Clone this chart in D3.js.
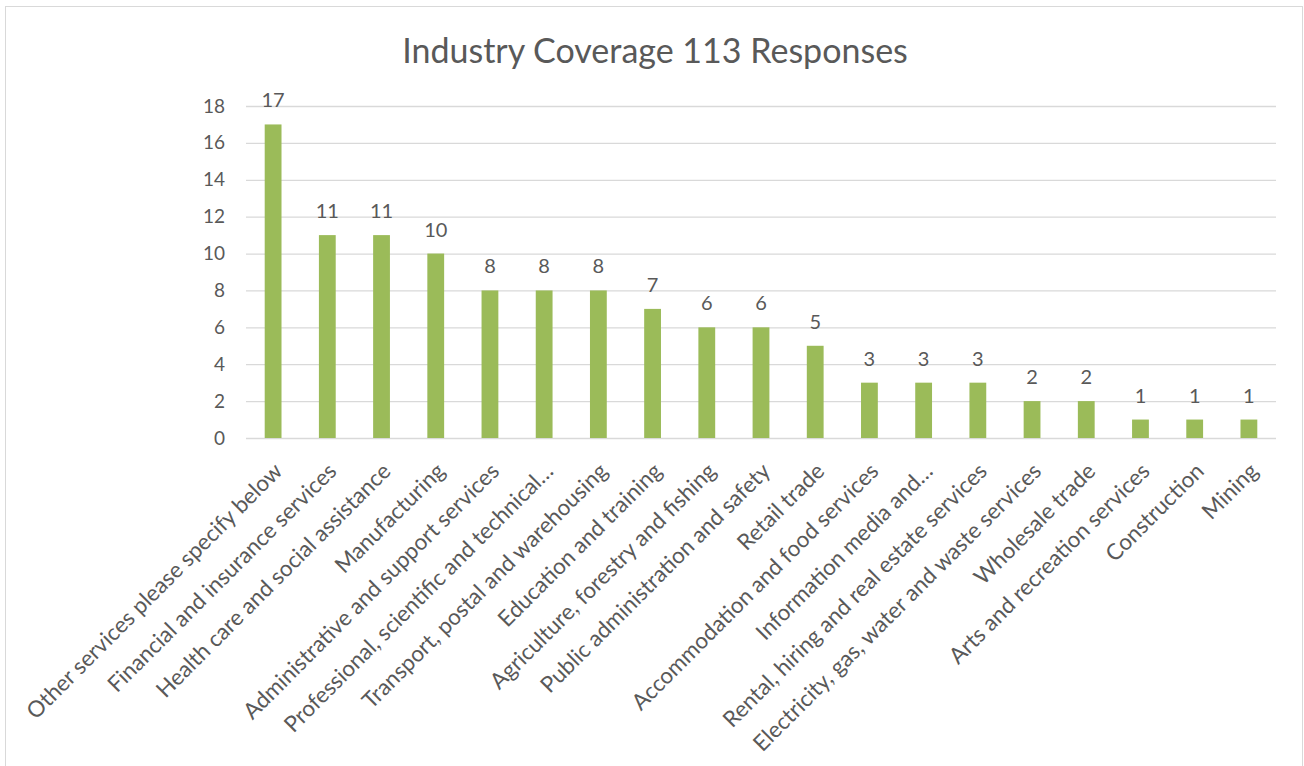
<!DOCTYPE html>
<html><head><meta charset="utf-8">
<script src="https://cdn.jsdelivr.net/npm/d3@7"></script>
<style>
body{margin:0;background:#fff;}
text{font-family:"Lato","Open Sans",sans-serif;fill:#595959;}
</style></head>
<body><svg id="c" width="1304" height="766"></svg>
<script>
const categories = ["Other services please specify below","Financial and insurance services","Health care and social assistance","Manufacturing","Administrative and support services","Professional, scientific and technical…","Transport, postal and warehousing","Education and training","Agriculture, forestry and fishing","Public administration and safety","Retail trade","Accommodation and food services","Information media and…","Rental, hiring and real estate services","Electricity, gas, water and waste services","Wholesale trade","Arts and recreation services","Construction","Mining"];
const values = [17,11,11,10,8,8,8,7,6,6,5,3,3,3,2,2,1,1,1];
const yTicks = [0,2,4,6,8,10,12,14,16,18];
const title = "Industry Coverage 113 Responses";

const svg = d3.select("#c");
svg.append("rect").attr("x",5.5).attr("y",6.5).attr("width",1297).attr("height",770)
  .attr("fill","#fff").attr("stroke","#d9d9d9");

const x = d3.scaleBand().domain(categories).range([246,1276]).paddingInner(0.69).paddingOuter(0.345);
const y = d3.scaleLinear().domain([0,18]).range([438,106]);

const ga = svg.append("g").attr("transform","translate(246,0)")
  .call(d3.axisLeft(y).tickValues(yTicks).tickSize(-1030).tickPadding(21));
ga.select(".domain").remove();
ga.selectAll("line").attr("stroke","#d9d9d9").attr("stroke-width",1.3);
ga.selectAll("text").attr("font-size",19).attr("fill","#595959").style("font-family","Lato");

svg.append("text").attr("x",655).attr("y",63).attr("text-anchor","middle")
  .attr("font-size",34).text(title);

svg.selectAll("rect.bar").data(values).enter().append("rect").attr("class","bar")
  .attr("x",(d,i)=>x(categories[i])).attr("width",x.bandwidth())
  .attr("y",d=>y(d)).attr("height",d=>y(0)-y(d)).attr("fill","#9bbb59");

svg.selectAll("text.val").data(values).enter().append("text").attr("class","val")
  .attr("x",(d,i)=>x(categories[i])+x.bandwidth()/2).attr("y",d=>y(d)-17)
  .attr("text-anchor","middle").attr("font-size",20).text(d=>d);

const gx = svg.append("g").attr("transform","translate(0,438)")
  .call(d3.axisBottom(x).tickSize(0).tickPadding(0));
gx.select(".domain").remove();
gx.selectAll("text").attr("font-size",22.4).attr("text-anchor","end")
  .style("font-family","Lato").attr("fill","#595959")
  .attr("transform","translate(5,29) rotate(-45)").attr("dy","0.35em").attr("y",0).attr("x",0);
</script></body></html>
